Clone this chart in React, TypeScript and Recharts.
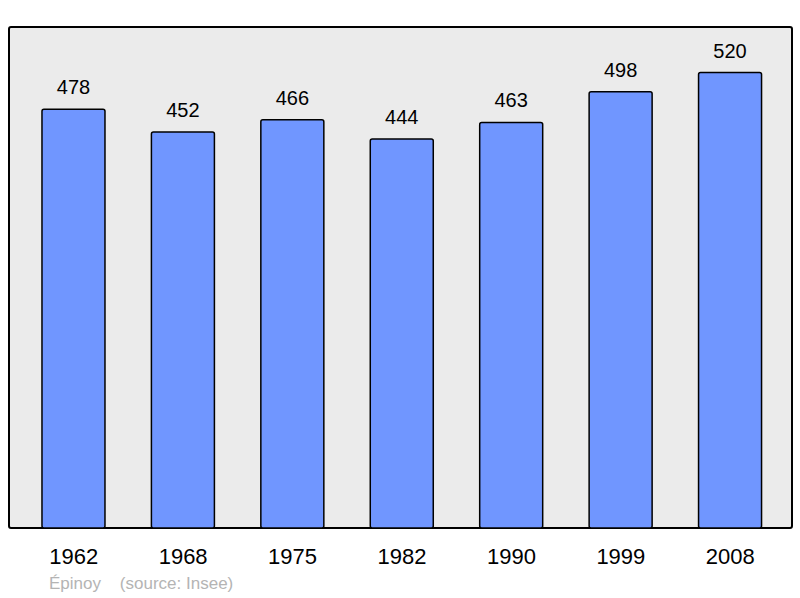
import { BarChart, Bar, XAxis, YAxis, LabelList } from "recharts";

const years = ["1962", "1968", "1975", "1982", "1990", "1999", "2008"];
const population = [478, 452, 466, 444, 463, 498, 520];

const data = years.map((year, i) => ({ year, value: population[i] }));

const FONT = '"Liberation Sans", Arial, sans-serif';

function YearTick({ x, y, payload }: any) {
  return (
    <text x={x} y={y + 28} textAnchor="middle" fontSize={22} fill="#000" fontFamily={FONT}>
      {payload.value}
    </text>
  );
}

export default function App() {
  return (
    <div style={{ position: "fixed", left: 0, top: 0, width: 800, height: 598, background: "#fff", fontFamily: FONT }}>
      {/* plot frame */}
      <div
        style={{
          position: "absolute",
          left: 8,
          top: 26,
          width: 781,
          height: 499,
          background: "#ebebeb",
          border: "2px solid #000",
          borderRadius: 3,
        }}
      />
      <div style={{ position: "absolute", left: 0, top: 0 }}>
        <BarChart
          width={800}
          height={598}
          data={data}
          margin={{ top: 27, right: 7, bottom: 40, left: 10 }}
          barCategoryGap="21%"
        >
          <XAxis
            dataKey="year"
            axisLine={false}
            tickLine={false}
            height={30}
            padding={{ left: 9, right: 8 }}
            tick={<YearTick />}
            interval={0}
          />
          <YAxis hide domain={[0, 572]} />
          <Bar
            dataKey="value"
            fill="#7096ff"
            stroke="#000"
            strokeWidth={1.5}
            radius={2}
            isAnimationActive={false}
          >
            <LabelList
              dataKey="value"
              position="top"
              offset={15}
              fontSize={20}
              fill="#000"
              fontFamily={FONT}
            />
          </Bar>
        </BarChart>
      </div>
      <div style={{ position: "absolute", left: 49, top: 574, fontSize: 17, lineHeight: "20px", color: "#b4b4b4", whiteSpace: "pre" }}>
        {"Épinoy    (source: Insee)"}
      </div>
    </div>
  );
}
